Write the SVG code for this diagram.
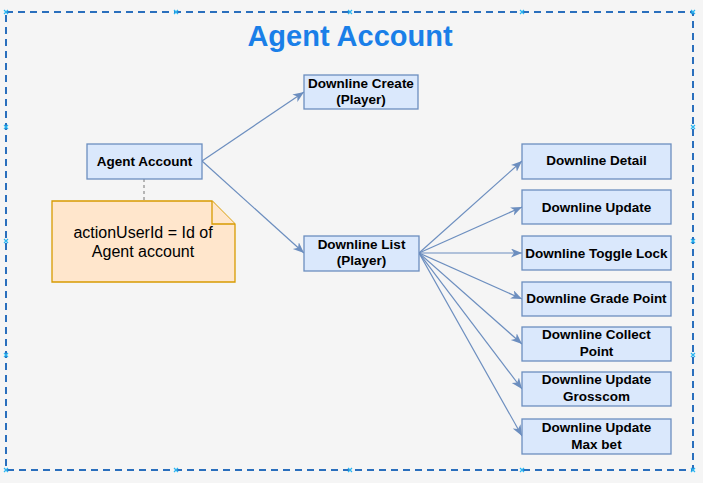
<svg xmlns="http://www.w3.org/2000/svg" width="703" height="483" viewBox="0 0 703 483">
<style>
.bg{fill:#f5f5f5}
.frame{fill:none;stroke:#2a6fbd;stroke-width:2;stroke-dasharray:7 5}
.title{font-family:"Liberation Sans",Arial,sans-serif;font-weight:bold;font-size:29px;fill:#1a7fe8;text-anchor:middle}
.box{fill:#dae8fc;stroke:#6c8ebf;stroke-width:1.3}
.lbl{font-family:"Liberation Sans",Arial,sans-serif;font-weight:bold;font-size:13.5px;fill:#000;text-anchor:middle}
.note{fill:#ffe6cc;stroke:#d79b00;stroke-width:1.3}
.ntxt{font-family:"Liberation Sans",Arial,sans-serif;font-size:16px;fill:#000;text-anchor:middle}
.edge{fill:none;stroke:#6c8ebf;stroke-width:1.2}
.dash{fill:none;stroke:#a0a0a0;stroke-width:1.5;stroke-dasharray:3 3}
.hx{stroke:#29b6f2;stroke-width:1.2}
</style>
<defs>
<marker id="arr" markerUnits="userSpaceOnUse" markerWidth="12" markerHeight="10" refX="11" refY="4.5" orient="auto">
<path d="M0,0 L11,4.5 L0,9 L3,4.5 z" fill="#6c8ebf"/>
</marker>
<g id="hm"><path class="hx" d="M-2,-2 L2,2 M-2,2 L2,-2"/></g>
</defs>
<rect class="bg" x="0" y="0" width="703" height="483"/>
<g id="container">
<rect class="frame" x="6" y="12" width="687" height="458"/>
<text class="title" x="350" y="46">Agent Account</text>
</g>
<g id="handles">
<use href="#hm" x="6" y="12"/><use href="#hm" x="176" y="12"/><use href="#hm" x="350" y="12"/><use href="#hm" x="522" y="12"/><use href="#hm" x="693" y="12"/>
<use href="#hm" x="6" y="470"/><use href="#hm" x="176" y="470"/><use href="#hm" x="350" y="470"/><use href="#hm" x="522" y="470"/><use href="#hm" x="693" y="470"/>
<use href="#hm" x="6" y="127"/><use href="#hm" x="6" y="241"/><use href="#hm" x="6" y="355"/>
<use href="#hm" x="693" y="127"/><use href="#hm" x="693" y="241"/><use href="#hm" x="693" y="355"/>
</g>
<g id="connectors">
<path class="dash" d="M144,179 L144,201"/>
<path class="edge" marker-end="url(#arr)" d="M202,161 L304,92"/>
<path class="edge" marker-end="url(#arr)" d="M202,161 L304,253"/>
<path class="edge" marker-end="url(#arr)" d="M419,253 L522,161"/>
<path class="edge" marker-end="url(#arr)" d="M419,253 L522,207"/>
<path class="edge" marker-end="url(#arr)" d="M419,253 L522,253"/>
<path class="edge" marker-end="url(#arr)" d="M419,253 L522,299"/>
<path class="edge" marker-end="url(#arr)" d="M419,253 L522,344"/>
<path class="edge" marker-end="url(#arr)" d="M419,253 L522,389"/>
<path class="edge" marker-end="url(#arr)" d="M419,253 L522,436"/>
</g>
<g id="agent-account">
<rect class="box" x="87" y="144" width="115" height="35"/>
<text class="lbl" x="144.5" y="166">Agent Account</text>
</g>
<g id="note">
<path class="note" d="M52,201 L212,201 L235,224 L235,282 L52,282 Z"/>
<path class="note" d="M212,201 L212,224 L235,224" fill="none"/>
<text class="ntxt" x="143" y="238">actionUserId = Id of</text>
<text class="ntxt" x="143" y="257">Agent account</text>
</g>
<g id="downline-create">
<rect class="box" x="304" y="75" width="114" height="34"/>
<text class="lbl" x="361" y="88">Downline Create</text>
<text class="lbl" x="361" y="104">(Player)</text>
</g>
<g id="downline-list">
<rect class="box" x="304" y="236" width="115" height="35"/>
<text class="lbl" x="361.5" y="249">Downline List</text>
<text class="lbl" x="361.5" y="265">(Player)</text>
</g>
<g id="downline-detail">
<rect class="box" x="522" y="144" width="149" height="35"/>
<text class="lbl" x="596.5" y="165">Downline Detail</text>
</g>
<g id="downline-update">
<rect class="box" x="522" y="190" width="149" height="34"/>
<text class="lbl" x="596.5" y="212">Downline Update</text>
</g>
<g id="downline-toggle-lock">
<rect class="box" x="522" y="236" width="149" height="34"/>
<text class="lbl" x="596.5" y="258">Downline Toggle Lock</text>
</g>
<g id="downline-grade-point">
<rect class="box" x="522" y="282" width="149" height="34"/>
<text class="lbl" x="596.5" y="303">Downline Grade Point</text>
</g>
<g id="downline-collect-point">
<rect class="box" x="522" y="327" width="149" height="34"/>
<text class="lbl" x="596.5" y="339">Downline Collect</text>
<text class="lbl" x="596.5" y="356">Point</text>
</g>
<g id="downline-update-grosscom">
<rect class="box" x="522" y="372" width="149" height="34"/>
<text class="lbl" x="596.5" y="384">Downline Update</text>
<text class="lbl" x="596.5" y="401">Grosscom</text>
</g>
<g id="downline-update-maxbet">
<rect class="box" x="522" y="419" width="149" height="35"/>
<text class="lbl" x="596.5" y="432">Downline Update</text>
<text class="lbl" x="596.5" y="449">Max bet</text>
</g>
</svg>
